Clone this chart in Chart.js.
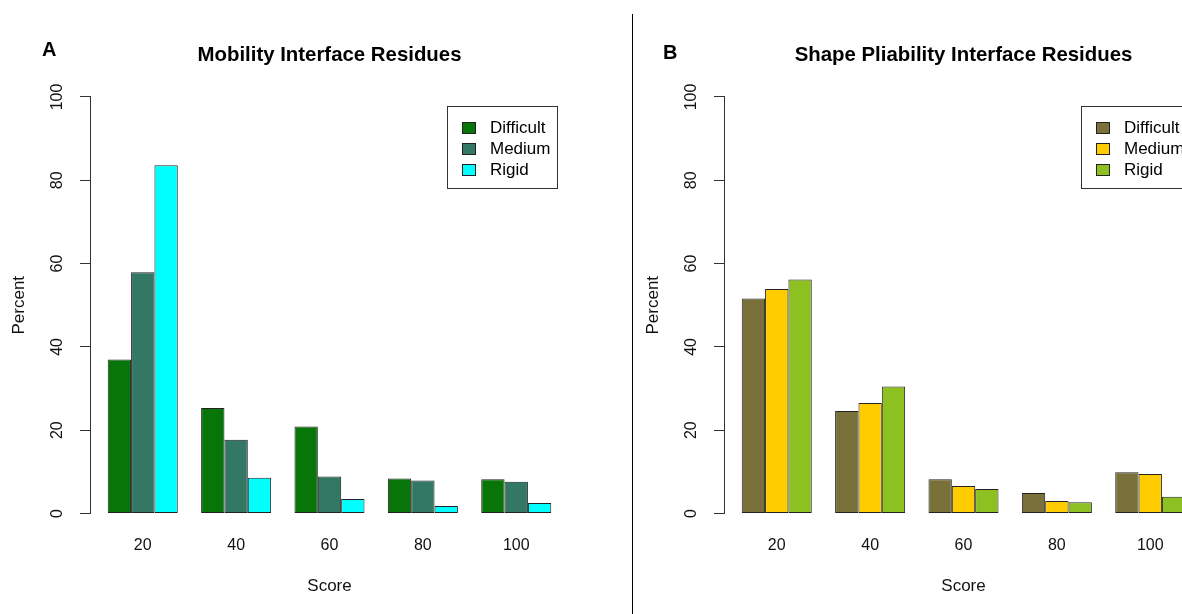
<!DOCTYPE html>
<html>
<head>
<meta charset="utf-8">
<script src="https://cdn.jsdelivr.net/npm/chart.js@4"></script>
<style>
  html, body { margin: 0; padding: 0; background: #fff; }
  #fig { position: relative; width: 1182px; height: 614px; overflow: hidden; }
  .panel { position: absolute; top: 0; width: 659px; height: 614px; }
  .tag { position: absolute; font: bold 20px 'Liberation Sans', Arial, sans-serif; line-height: 20px; color: #000; }
  #divider { position: absolute; left: 632px; top: 14px; width: 1px; height: 600px; background: #000; }
</style>
</head>
<body>
<div id="fig">
  <div class="panel" style="left:0"><canvas id="mobilityChart" width="659" height="614"></canvas></div>
  <div class="panel" style="left:634px"><canvas id="shapeChart" width="659" height="614"></canvas></div>
  <div id="divider"></div>
  <div class="tag" style="left:42px; top:39px">A</div>
  <div class="tag" style="left:663px; top:42px">B</div>
</div>
<script>
const scores = [20, 40, 60, 80, 100];
const seriesNames = ['Difficult', 'Medium', 'Rigid'];

// panel A - mobility
const mobilityDifficult = [37.0, 25.3, 20.9, 8.4, 8.2];
const mobilityMedium = [57.9, 17.7, 8.9, 7.9, 7.6];
const mobilityRigid = [83.6, 8.6, 3.5, 1.8, 2.5];

// panel B - shape pliability
const shapeDifficult = [51.6, 24.6, 8.2, 4.9, 9.9];
const shapeMedium = [53.9, 26.5, 6.6, 3.0, 9.5];
const shapeRigid = [56.2, 30.5, 5.9, 2.7, 4.0];

const mobilityColors = ['#087508', '#327864', '#00ffff'];
const shapeColors = ['#7a713a', '#ffcc00', '#8dc021'];

Chart.defaults.font.family = "'Liberation Sans', Arial, sans-serif";
Chart.defaults.color = '#000';

// R style legend: boxed, top right inside the plot
const boxLegend = {
    id: 'boxLegend',
    afterDraw(chart, args, opts) {
        const { ctx, chartArea } = chart;
        const left = chartArea.right - opts.inset - opts.width;
        const top = chartArea.top + opts.top;
        ctx.save();
        ctx.lineWidth = 1;
        ctx.strokeStyle = '#333';
        ctx.strokeRect(Math.round(left) + 0.5, Math.round(top) + 0.5, opts.width, opts.height);
        ctx.font = "17px 'Liberation Sans', Arial, sans-serif";
        ctx.textBaseline = 'middle';
        chart.data.datasets.forEach((ds, i) => {
            const y = Math.round(top + 21 + i * 21);
            ctx.fillStyle = ds.backgroundColor;
            ctx.fillRect(Math.round(left) + 15, y - 5, 13, 11);
            ctx.strokeStyle = '#222';
            ctx.strokeRect(Math.round(left) + 15.5, y - 4.5, 13, 11);
            ctx.fillStyle = '#000';
            ctx.fillText(ds.label, left + 43, y + 1);
        });
        ctx.restore();
    }
};

function makePanel(canvasId, titleText, values, colors) {
    const ctx = document.getElementById(canvasId).getContext('2d');
    return new Chart(ctx, {
        type: 'bar',
        data: {
            datasets: seriesNames.map((name, i) => ({
                label: name,
                data: scores.map((s, j) => ({ x: s, y: values[i][j] })),
                backgroundColor: colors[i],
                borderColor: '#222',
                borderWidth: 1,
                borderSkipped: false,
                categoryPercentage: 0.75,
                barPercentage: 1
            }))
        },
        options: {
            responsive: false,
            animation: false,
            layout: { padding: 0 },
            scales: {
                x: {
                    type: 'linear',
                    min: 8.7,
                    max: 111.3,
                    offset: false,
                    afterBuildTicks: scale => { scale.ticks = scores.map(v => ({ value: v })); },
                    afterFit: scale => { scale.height = 100.5; },
                    grid: { display: false, drawTicks: false },
                    border: { display: false },
                    ticks: { padding: 22, font: { size: 16 }, color: '#111' },
                    title: { display: true, text: 'Score', font: { size: 17 }, color: '#111', padding: { top: 0, bottom: 17.8 } }
                },
                y: {
                    min: 0,
                    max: 100,
                    afterFit: scale => { scale.width = 90; },
                    ticks: { stepSize: 20, minRotation: 90, maxRotation: 90, crossAlign: 'center', padding: 9, font: { size: 16 }, color: '#111' },
                    grid: { drawOnChartArea: false, tickLength: 10, color: '#333' },
                    border: { display: true, color: '#333' },
                    title: { display: true, text: 'Percent', font: { size: 17 }, color: '#111', padding: { top: 8.8, bottom: 0 } }
                },
                // empty right margin so the title centres over the plot
                yPad: {
                    position: 'right',
                    afterFit: scale => { scale.width = 90; },
                    ticks: { display: false },
                    grid: { display: false },
                    border: { display: false }
                }
            },
            plugins: {
                legend: { display: false },
                tooltip: { enabled: false },
                title: {
                    display: true,
                    text: titleText,
                    font: { size: 20.4, weight: 'bold' },
                    color: '#000',
                    padding: { top: 43.3, bottom: 29.2 }
                },
                boxLegend: { inset: 12, top: 9.5, width: 110, height: 82 }
            }
        },
        plugins: [boxLegend]
    });
}

makePanel('mobilityChart', 'Mobility Interface Residues', [mobilityDifficult, mobilityMedium, mobilityRigid], mobilityColors);
makePanel('shapeChart', 'Shape Pliability Interface Residues', [shapeDifficult, shapeMedium, shapeRigid], shapeColors);
</script>
</body>
</html>
